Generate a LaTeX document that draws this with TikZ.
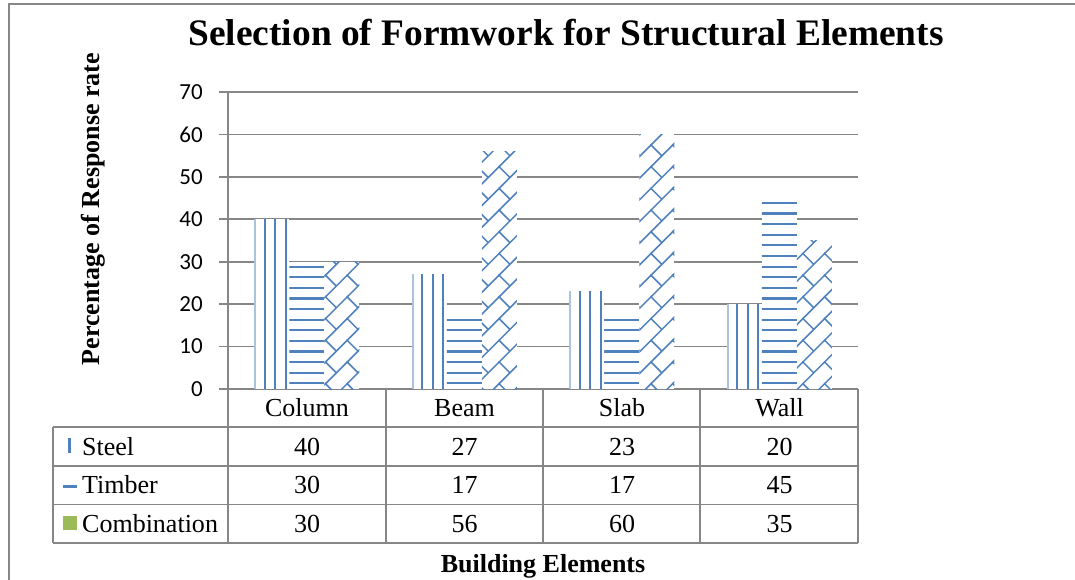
\documentclass[tikz,border=0pt]{standalone}
\usepackage{fontspec}
\setmainfont{Liberation Serif}
\newfontfamily\tickfont{Carlito}
\usetikzlibrary{patterns}

\definecolor{barblue}{RGB}{79,129,189}
\definecolor{lightblue}{RGB}{170,195,225}
\definecolor{gridgray}{RGB}{134,134,134}
\definecolor{keygreen}{RGB}{155,187,89}

\pgfdeclarepatternformonly{timberlines}{\pgfpoint{-1pt}{-1pt}}{\pgfpoint{11.5pt}{11.5pt}}{\pgfpoint{10.6pt}{10.6pt}}{
  \pgfsetlinewidth{2.2pt}
  \pgfpathmoveto{\pgfpoint{-1pt}{5pt}}\pgfpathlineto{\pgfpoint{11.5pt}{5pt}}
  \pgfusepath{stroke}}
\pgfdeclarepatternformonly{combobricks}{\pgfpoint{-1pt}{-1pt}}{\pgfpoint{22.7pt}{22.7pt}}{\pgfpoint{21.7pt}{21.7pt}}{
  \pgfsetlinewidth{1.5pt}
  \pgfpathmoveto{\pgfpoint{-1pt}{-1pt}}\pgfpathlineto{\pgfpoint{22.7pt}{22.7pt}}
  \pgfpathmoveto{\pgfpoint{10.85pt}{10.85pt}}\pgfpathlineto{\pgfpoint{0pt}{21.7pt}}
  \pgfusepath{stroke}}

\begin{document}
\begin{tikzpicture}[x=1pt,y=-1pt,
  gridline/.style={gridgray,line width=1.6pt},
  cell/.style={inner sep=0pt,anchor=base,font=\fontsize{26}{30}\selectfont},
  ticklabel/.style={inner sep=0pt,anchor=east,font=\tickfont\fontsize{23}{27}\selectfont},
  barfill/.style={fill=white,postaction={pattern=#1,pattern color=barblue}},
  steelline/.style={barblue,line width=2.2pt}]
\useasboundingbox (0,0) rectangle (1075,579);
\clip (0,0) rectangle (1075,579);
\draw[gridgray,line width=2pt] (9,600) -- (9,4) -- (1100,4);

\node[inner sep=0pt,anchor=base,font=\fontsize{37.4}{40}\selectfont\bfseries] (title) at (566,45) {Selection of Formwork for Structural Elements};
\node[inner sep=0pt,anchor=base,rotate=90,font=\fontsize{26}{30}\selectfont\bfseries] (ylabel) at (99,209) {Percentage of Response rate};
\node[inner sep=0pt,anchor=base,font=\fontsize{26}{30}\selectfont\bfseries] (xlabel) at (543,572) {Building Elements};

% grid and axis
\foreach \v in {0,10,...,70}{
  \draw[gridline] (219,{389-4.243*\v}) -- (858,{389-4.243*\v});
  \node[ticklabel] (tick\v) at (203,{389-4.243*\v}) {\v};
}
\draw[gridline] (228,92) -- (228,389);

% bars
\foreach \i/\s/\t/\c in {0/40/30/30,1/27/17/56,2/23/17/60,3/20/45/35}{
  \pgfmathsetmacro\xa{254.25+157.5*\i}
  \pgfmathsetmacro\ys{389-4.243*\s}
  \fill[white] (\xa,389) rectangle ({\xa+35},\ys);
  \draw[steelline,lightblue] ({\xa+1},389) -- ({\xa+1},\ys);
  \foreach \o in {10.5,21,31.5}
    \draw[steelline] ({\xa+\o},389) -- ({\xa+\o},\ys);
  \path[barfill=timberlines] ({\xa+35},389) rectangle ({\xa+70},{389-4.243*\t});
  \path[barfill=combobricks] ({\xa+70},389) rectangle ({\xa+105},{389-4.243*\c});
}

% data table
\foreach \y in {427,466,504.5,543}
  \draw[gridline] (53,\y) -- (858,\y);
\foreach \x in {228,386,543,700,858}
  \draw[gridline] (\x,389) -- (\x,543);
\draw[gridline] (53,427) -- (53,543);

\foreach \name [count=\k from 0] in {Column,Beam,Slab,Wall}
  \node[cell] (head\k) at ({307+157.5*\k},416.7) {\name};
\foreach \v [count=\k from 0] in {40,27,23,20}
  \node[cell] (steel\k) at ({307+157.5*\k},455) {\v};
\foreach \v [count=\k from 0] in {30,17,17,45}
  \node[cell] (timber\k) at ({307+157.5*\k},493.5) {\v};
\foreach \v [count=\k from 0] in {30,56,60,35}
  \node[cell] (combo\k) at ({307+157.5*\k},532) {\v};

% legend keys
\draw[barblue,line width=2.5pt] (69.5,438) -- (69.5,453);
\node[cell,anchor=base west] (steelname) at (82,455) {Steel};
\draw[barblue,line width=2.5pt] (63,486.5) -- (77,486.5);
\node[cell,anchor=base west] (timbername) at (82,493.5) {Timber};
\fill[keygreen] (63,516) rectangle (77,530);
\node[cell,anchor=base west] (comboname) at (82,532) {Combination};
\end{tikzpicture}
\end{document}
